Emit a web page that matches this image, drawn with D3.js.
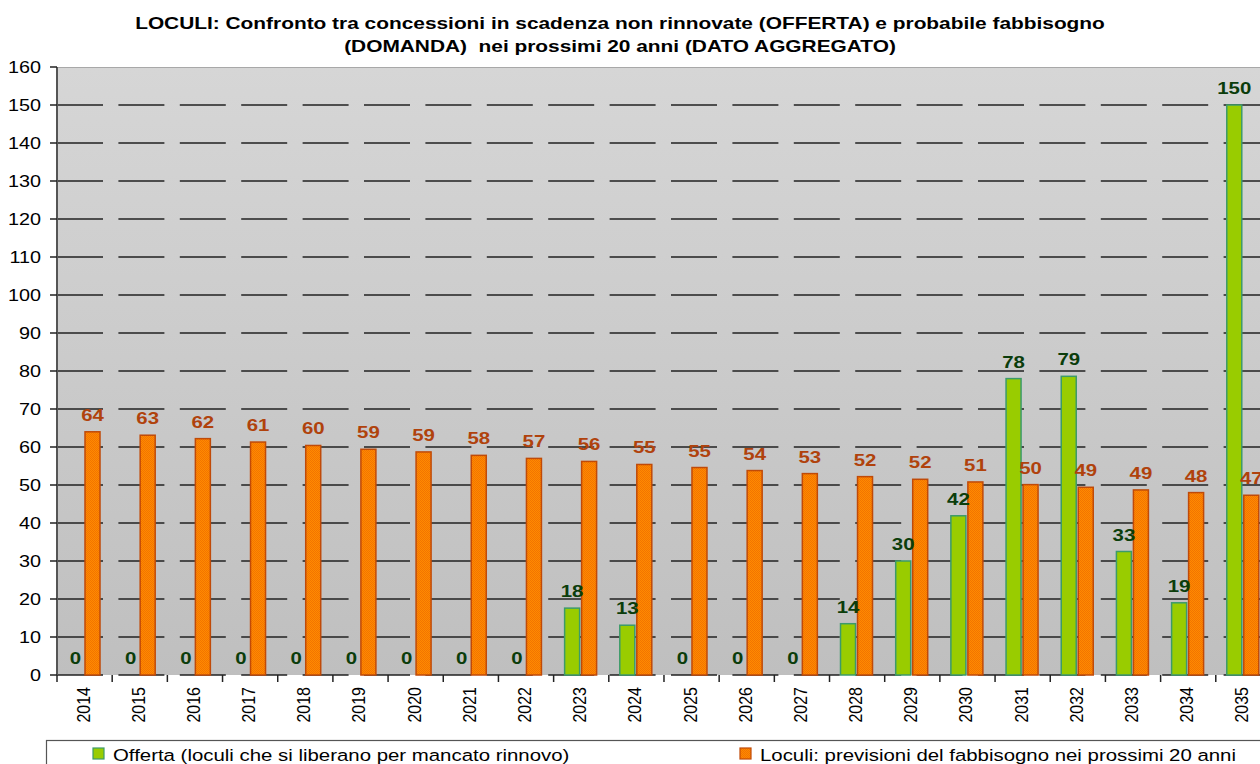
<!DOCTYPE html>
<html>
<head>
<meta charset="utf-8">
<script src="https://cdn.jsdelivr.net/npm/d3@7"></script>
<style>
  body { margin: 0; background: #fff; }
  text { font-family: "Liberation Sans", Arial, sans-serif; }
</style>
</head>
<body>
<svg id="chart" width="1260" height="764"></svg>
<script>
var years = ["2014", "2015", "2016", "2017", "2018", "2019", "2020", "2021", "2022", "2023", "2024",
             "2025", "2026", "2027", "2028", "2029", "2030", "2031", "2032", "2033", "2034", "2035"];
// offerta: loculi che si liberano per mancato rinnovo
var offerta = [0, 0, 0, 0, 0, 0, 0, 0, 0, 17.6, 13.1, 0, 0, 0, 13.5, 30.0, 41.9, 78.0, 78.6, 32.5, 19.0, 150];
// domanda: previsioni del fabbisogno
var domanda = [64.0, 63.1, 62.2, 61.3, 60.4, 59.4, 58.7, 57.8, 57.0, 56.2, 55.4,
               54.6, 53.8, 53.0, 52.2, 51.5, 50.8, 50.1, 49.4, 48.7, 48.0, 47.3];
var yTicks = [0, 10, 20, 30, 40, 50, 60, 70, 80, 90, 100, 110, 120, 130, 140, 150, 160];
var titleLines = ["LOCULI: Confronto tra concessioni in scadenza non rinnovate (OFFERTA) e probabile fabbisogno",
                  "(DOMANDA)  nei prossimi 20 anni (DATO AGGREGATO)"];
var legendLabels = ["Offerta (loculi che si liberano per mancato rinnovo)",
                    "Loculi: previsioni del fabbisogno nei prossimi 20 anni"];

var GREEN = "#99cc00", GREEN_EDGE = "#3c9a6a", GREEN_TXT = "#0b3d0b";
var ORANGE_EDGE = "#c04a08", ORANGE_TXT = "#b0420c";
var SX = 1.2; // the original is a bit stretched horizontally

var svg = d3.select("#chart");
var plotLeft = 57, plotTop = 67, plotBottom = 675, step = 55.18;
var plotRight = plotLeft + years.length * step;

var x = d3.scaleBand().domain(years).range([plotLeft, plotRight]);
var y = d3.scaleLinear().domain([0, 160]).range([plotBottom, plotTop]);

var defs = svg.append("defs");
var grad = defs.append("linearGradient").attr("id", "bg").attr("x1", 0).attr("y1", 0).attr("x2", 0).attr("y2", 1);
grad.append("stop").attr("offset", "0%").attr("stop-color", "#d6d6d6");
grad.append("stop").attr("offset", "100%").attr("stop-color", "#bfbfbf");

// dithered orange fill
var pat = defs.append("pattern").attr("id", "orangeDots")
    .attr("width", 2).attr("height", 2).attr("patternUnits", "userSpaceOnUse");
pat.append("rect").attr("width", 2).attr("height", 2).attr("fill", "#ff8a00");
pat.append("rect").attr("width", 1).attr("height", 1).attr("fill", "#f27400");
pat.append("rect").attr("x", 1).attr("y", 1).attr("width", 1).attr("height", 1).attr("fill", "#f27400");

// plot area
svg.append("rect")
    .attr("x", plotLeft).attr("y", plotTop)
    .attr("width", plotRight - plotLeft).attr("height", plotBottom - plotTop)
    .attr("fill", "url(#bg)");
svg.append("line")
    .attr("x1", plotLeft).attr("x2", plotRight).attr("y1", plotTop + 0.5).attr("y2", plotTop + 0.5)
    .attr("stroke", "#a8a8a8").attr("stroke-width", 1);

// dashed gridlines
svg.append("g").selectAll("line")
    .data(yTicks.filter(function (t) { return t < 160; }))
    .enter().append("line")
    .attr("x1", plotLeft).attr("x2", plotRight)
    .attr("y1", function (d) { return y(d); })
    .attr("y2", function (d) { return y(d); })
    .attr("stroke", "#222").attr("stroke-width", 1.5)
    .attr("stroke-dasharray", "46,15.4");

// y axis
svg.append("line")
    .attr("x1", plotLeft).attr("x2", plotLeft).attr("y1", plotTop).attr("y2", plotBottom)
    .attr("stroke", "#555").attr("stroke-width", 2);
var yAxis = svg.append("g").selectAll("g").data(yTicks).enter().append("g");
yAxis.append("line")
    .attr("x1", plotLeft - 7).attr("x2", plotLeft)
    .attr("y1", function (d) { return y(d); }).attr("y2", function (d) { return y(d); })
    .attr("stroke", "#222").attr("stroke-width", 1.5);
yAxis.append("text")
    .attr("transform", function (d) { return "translate(41," + (y(d) + 6) + ") scale(" + SX + ",1)"; })
    .attr("text-anchor", "end")
    .attr("font-size", 16.5)
    .attr("fill", "#000")
    .text(function (d) { return d; });

// x axis ticks at category boundaries
svg.append("g").selectAll("line")
    .data(years)
    .enter().append("line")
    .attr("x1", function (d) { return x(d); }).attr("x2", function (d) { return x(d); })
    .attr("y1", plotBottom).attr("y2", plotBottom + 7)
    .attr("stroke", "#222").attr("stroke-width", 1.5);
svg.append("g").selectAll("text")
    .data(years)
    .enter().append("text")
    .attr("transform", function (d) {
        return "translate(" + (x(d) + x.bandwidth() / 2 + 5) + "," + (plotBottom + 12) + ") scale(" + SX + ",1) rotate(-90)";
    })
    .attr("text-anchor", "end")
    .attr("font-size", 16)
    .text(function (d) { return d; });

var BAR_W = 15;

// offerta bars
svg.append("g").selectAll("rect")
    .data(offerta)
    .enter().append("rect")
    .attr("x", function (d, i) { return x(years[i]) + 11; })
    .attr("y", function (d) { return y(d); })
    .attr("width", BAR_W)
    .attr("height", function (d) { return plotBottom - y(d); })
    .attr("fill", GREEN)
    .attr("stroke", GREEN_EDGE).attr("stroke-width", function (d) { return d > 0 ? 1.5 : 0; });

// domanda bars
svg.append("g").selectAll("rect")
    .data(domanda)
    .enter().append("rect")
    .attr("x", function (d, i) { return x(years[i]) + 28; })
    .attr("y", function (d) { return y(d); })
    .attr("width", BAR_W)
    .attr("height", function (d) { return plotBottom - y(d); })
    .attr("fill", "url(#orangeDots)")
    .attr("stroke", ORANGE_EDGE).attr("stroke-width", 1.5);

// value labels
function valueLabels(data, offset, color) {
    svg.append("g").selectAll("text")
        .data(data)
        .enter().append("text")
        .attr("transform", function (d, i) {
            return "translate(" + (x(years[i]) + offset + BAR_W / 2) + "," + (y(d) - 11) + ") scale(" + SX + ",1)";
        })
        .attr("text-anchor", "middle")
        .attr("font-size", 17)
        .attr("font-weight", "bold")
        .attr("fill", color)
        .text(function (d) { return Math.round(d); });
}
valueLabels(offerta, 11, GREEN_TXT);
valueLabels(domanda, 28, ORANGE_TXT);

// title
svg.append("g").selectAll("text")
    .data(titleLines)
    .enter().append("text")
    .attr("transform", function (d, i) { return "translate(620," + (29 + i * 23) + ") scale(1.25,1)"; })
    .attr("text-anchor", "middle")
    .attr("font-size", 16.7)
    .attr("font-weight", "bold")
    .attr("xml:space", "preserve")
    .style("white-space", "pre")
    .text(function (d) { return d; });

// legend (box runs past the bottom edge)
svg.append("rect")
    .attr("x", 46.5).attr("y", 740.5).attr("width", 1260).attr("height", 60)
    .attr("fill", "#fff").attr("stroke", "#555").attr("stroke-width", 1.2);
var legend = svg.append("g").selectAll("g")
    .data(legendLabels)
    .enter().append("g")
    .attr("transform", function (d, i) { return "translate(" + (i === 0 ? 93 : 740) + ",748)"; });
legend.append("rect")
    .attr("width", 11).attr("height", 11)
    .attr("fill", function (d, i) { return i === 0 ? GREEN : "url(#orangeDots)"; })
    .attr("stroke", function (d, i) { return i === 0 ? GREEN_EDGE : ORANGE_EDGE; })
    .attr("stroke-width", 1.2);
legend.append("text")
    .attr("transform", "translate(20,13) scale(" + SX + ",1)")
    .attr("font-size", 17)
    .text(function (d) { return d; });
</script>
</body>
</html>
